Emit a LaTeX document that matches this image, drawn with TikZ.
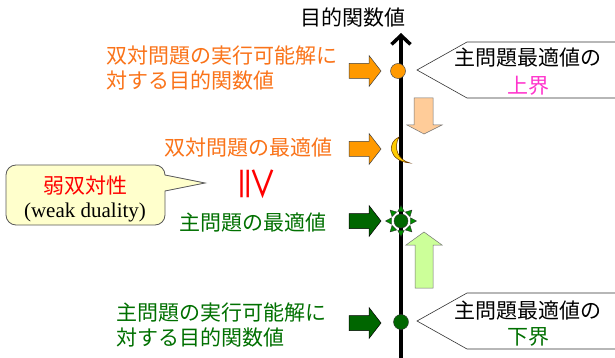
\documentclass[tikz,border=0pt]{standalone}
\usepackage{fontspec}
\setmainfont{Noto Sans CJK JP}
\newfontfamily\serifen{Liberation Serif}
\usetikzlibrary{arrows.meta}
\definecolor{orangetext}{RGB}{250,115,25}
\definecolor{orangefill}{RGB}{255,153,0}
\definecolor{moonfill}{RGB}{255,204,0}
\definecolor{peach}{RGB}{255,204,153}
\definecolor{darkgreen}{RGB}{0,102,0}
\definecolor{raygreen}{RGB}{0,140,0}
\definecolor{greentext}{RGB}{0,112,0}
\definecolor{lightgreen}{RGB}{204,255,153}
\definecolor{magentatext}{RGB}{255,51,204}
\definecolor{calloutfill}{RGB}{255,255,204}
\tikzset{
  lbl/.style={font=\fontsize{21}{25}\selectfont, inner sep=0pt},
  blk/.style={line width=0.5pt},
  pics/rblk/.style={code={
    \draw[blk,#1] (0,-7.5) -- (20,-7.5) -- (20,-15.5) -- (32,0) -- (20,15.5) -- (20,7.5) -- (0,7.5) -- cycle;}},
  callout/.style={draw=black!80, fill=white, line width=0.6pt},
}
\begin{document}
\begin{tikzpicture}[x=1pt,y=-1pt]
\useasboundingbox (0,0) rectangle (615,358);
\clip (0,0) rectangle (615,358);
\fill[white] (0,0) rectangle (615,358);

% axis
\coordinate (axbot) at (401,362);
\coordinate (axtop) at (401,33);
\draw[line width=3.5pt, -{Straight Barb[length=9pt,width=19pt]}] (axbot) -- (axtop);
\node[lbl, anchor=base] (title) at (353,25.5) {目的関数値};

% upper callout
\draw[callout] (625,42) -- (467,42) -- (417,70) -- (467,98) -- (625,98);
\node[lbl, anchor=base] (ub1) at (528,66) {主問題最適値の};
\node[lbl, anchor=base, text=magentatext] (ub2) at (528,93.5) {上界};

% lower callout
\draw[callout] (625,293) -- (467,293) -- (417,321) -- (467,349) -- (625,349);
\node[lbl, anchor=base] (lb1) at (528,318.5) {主問題最適値の};
\node[lbl, anchor=base, text=greentext] (lb2) at (528,344.5) {下界};

% orange texts
\node[lbl, anchor=base west, text=orangetext] (df1) at (106,63.5) {双対問題の実行可能解に};
\node[lbl, anchor=base west, text=orangetext] (df2) at (106,88.5) {対する目的関数値};
\node[lbl, anchor=base east, text=orangetext] (dopt) at (333,155.5) {双対問題の最適値};

% green texts
\node[lbl, anchor=base east, text=greentext] (popt) at (327,230) {主問題の最適値};
\node[lbl, anchor=base west, text=greentext] (pf1) at (116,320) {主問題の実行可能解に};
\node[lbl, anchor=base west, text=greentext] (pf2) at (116,345) {対する目的関数値};

% block arrows
\pic at (349,71) {rblk={fill=orangefill, draw=black!75}};
\pic at (349,149) {rblk={fill=orangefill, draw=black!75}};
\pic at (349,221) {rblk={fill=darkgreen, draw=black}};
\pic at (349,323) {rblk={fill=darkgreen, draw=black}};

% down / up arrows
\draw[blk, fill=peach, draw=black!55] (414,98) -- (433,98) -- (433,125) -- (442,125) -- (424,134) -- (407,125) -- (414,125) -- cycle;
\draw[blk, fill=lightgreen, draw=black!55] (415,288) -- (433,288) -- (433,245) -- (442,245) -- (424,232) -- (406,245) -- (415,245) -- cycle;

% markers
\draw[fill=orangefill, draw=black!70, line width=0.5pt] (398,71) circle[radius=7.5];
\draw[fill=moonfill, draw=black!60!orange, line width=0.5pt] (399,137) .. controls (387,142) and (388,161) .. (410,163) .. controls (398,160) and (393,148) .. (399,137) -- cycle;
\begin{scope}[shift={(401,221)}]
  \foreach \a in {0,45,...,315}{
    \draw[fill=raygreen, draw=black!85, line width=0.35pt] (\a-19:10pt) -- (\a:15.5pt) -- (\a+19:10pt) -- cycle;
  }
  \draw[fill=darkgreen, draw=black!80, line width=0.4pt] (0,0) circle[radius=7];
\end{scope}
\draw[fill=darkgreen, draw=black!80, line width=0.4pt] (401,322) circle[radius=7.5];

% weak duality callout
\draw[fill=calloutfill, draw=black!65, line width=0.8pt, rounded corners=10pt] (6,165) rectangle (165,225);
\fill[calloutfill] (163,175) -- (205,183) -- (163,191) -- cycle;
\draw[draw=black!65, line width=0.8pt] (165,175) -- (205,183) -- (165,191);
\node[lbl, anchor=base, text=red] (wd1) at (85,193.5) {弱双対性};
\node[lbl, anchor=base, font=\serifen\fontsize{21}{25}\selectfont] (wd2) at (85,217.5) {(weak duality)};

% inequality sign
\node[inner sep=0pt, text=red, rotate=-90, font=\fontsize{37}{37}\selectfont] (geq) at (257,184) {≧};
\end{tikzpicture}
\end{document}
